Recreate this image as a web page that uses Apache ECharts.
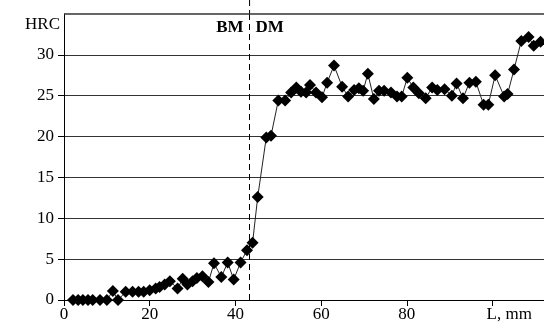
<!DOCTYPE html>
<html><head><meta charset="utf-8">
<script src="https://cdn.jsdelivr.net/npm/echarts@6/dist/echarts.min.js"></script>
<style>html,body{margin:0;padding:0;background:#fff}#c{width:544px;height:331px}</style>
</head><body><div id="c"></div>
<script>
const xValues = [2.1,3.3,4.4,5.6,6.7,8.4,10,11.4,12.6,14.4,16,17.4,18.6,20,21.4,22.3,23.5,24.7,26.5,27.7,28.8,30,31,32.3,33.7,35,36.7,38.2,39.6,41.2,42.7,44,45.2,47.2,48.3,50,51.6,53,54.2,55.3,56.5,57.4,58.8,60.2,61.4,63,64.9,66.3,67.7,68.8,69.8,70.9,72.3,73.5,74.7,76.3,77.7,78.8,80.1,81.5,82.8,84.4,85.9,87.1,88.8,90.5,91.6,93.1,94.6,96.1,97.9,99,100.6,102.7,103.5,105,106.7,108.4,109.6,111.2];
const hrcValues = [0,0,0,0,0,0,0,1.1,0,1.0,1.0,1.0,1.0,1.2,1.4,1.6,1.9,2.3,1.4,2.6,1.9,2.3,2.7,2.9,2.2,4.5,2.8,4.6,2.5,4.6,6.1,7.0,12.6,19.9,20.1,24.4,24.4,25.4,26.0,25.5,25.4,26.3,25.4,24.8,26.6,28.7,26.1,24.9,25.7,25.9,25.6,27.7,24.6,25.6,25.6,25.4,24.9,24.9,27.2,26.0,25.3,24.7,26.0,25.7,25.8,25.0,26.5,24.7,26.6,26.7,23.9,23.9,27.5,24.9,25.2,28.2,31.7,32.2,31.1,31.6];
const xTickLabels = [0,20,40,60,80];
const yTickLabels = [0,5,10,15,20,25,30];
const boundaryX = 43.3;

const F = '"Liberation Serif","DejaVu Serif",serif';
const chart = echarts.init(document.getElementById('c'));
const pts = xValues.map((x,i)=>[x,hrcValues[i]]);
chart.setOption({
  animation:false,
  grid:{left:64,top:14,right:0,bottom:31,containLabel:false},
  xAxis:{type:'value',min:0,max:112,interval:20,
    axisLine:{show:true,onZero:false,lineStyle:{color:'#000',width:1}},
    axisTick:{show:true,length:6,lineStyle:{color:'#000'},customValues:[0,20,40,60,80,100]},
    axisLabel:{color:'#000',fontFamily:F,fontSize:17,margin:6,customValues:xTickLabels},
    splitLine:{show:false}},
  yAxis:{type:'value',min:0,max:35,interval:5,
    axisLine:{show:true,onZero:false,lineStyle:{color:'#000',width:1}},
    axisTick:{show:true,length:6,lineStyle:{color:'#000'},customValues:yTickLabels},
    axisLabel:{color:'#000',fontFamily:F,fontSize:17,margin:10,customValues:yTickLabels},
    splitLine:{show:true,lineStyle:{color:'#333',width:1.2}}},
  series:[{type:'line',data:pts,symbol:'diamond',symbolSize:12,
    itemStyle:{color:'#000'},lineStyle:{color:'#222',width:1},
    markLine:{silent:true,symbol:'none',label:{show:false},
      data:[
        {xAxis:boundaryX,lineStyle:{color:'#000',type:[6,4],width:1}},
        {yAxis:35,lineStyle:{color:'#333',type:'solid',width:1.5}}
      ]}}]
});
const px = chart.convertToPixel({gridIndex:0},[boundaryX,35]);
const pL = chart.convertToPixel({gridIndex:0},[100,0]);
chart.setOption({graphic:[
  {type:'line',shape:{x1:px[0],y1:0,x2:px[0],y2:px[1]},style:{stroke:'#000',lineWidth:1,lineDash:[6,4]}},
  {type:'text',x:px[0]-6,y:28,style:{text:'BM',font:'bold 17px '+F,fill:'#000',textAlign:'right',textVerticalAlign:'middle'}},
  {type:'text',x:px[0]+6,y:28,style:{text:'DM',font:'bold 17px '+F,fill:'#000',textAlign:'left',textVerticalAlign:'middle'}},
  {type:'text',x:60,y:25,style:{text:'HRC',font:'17px '+F,fill:'#000',textAlign:'right',textVerticalAlign:'middle'}},
  {type:'text',x:pL[0]-6,y:pL[1]+6,style:{text:'L, mm',font:'17px '+F,fill:'#000',textAlign:'left',textVerticalAlign:'top'}}
]});
</script></body></html>
